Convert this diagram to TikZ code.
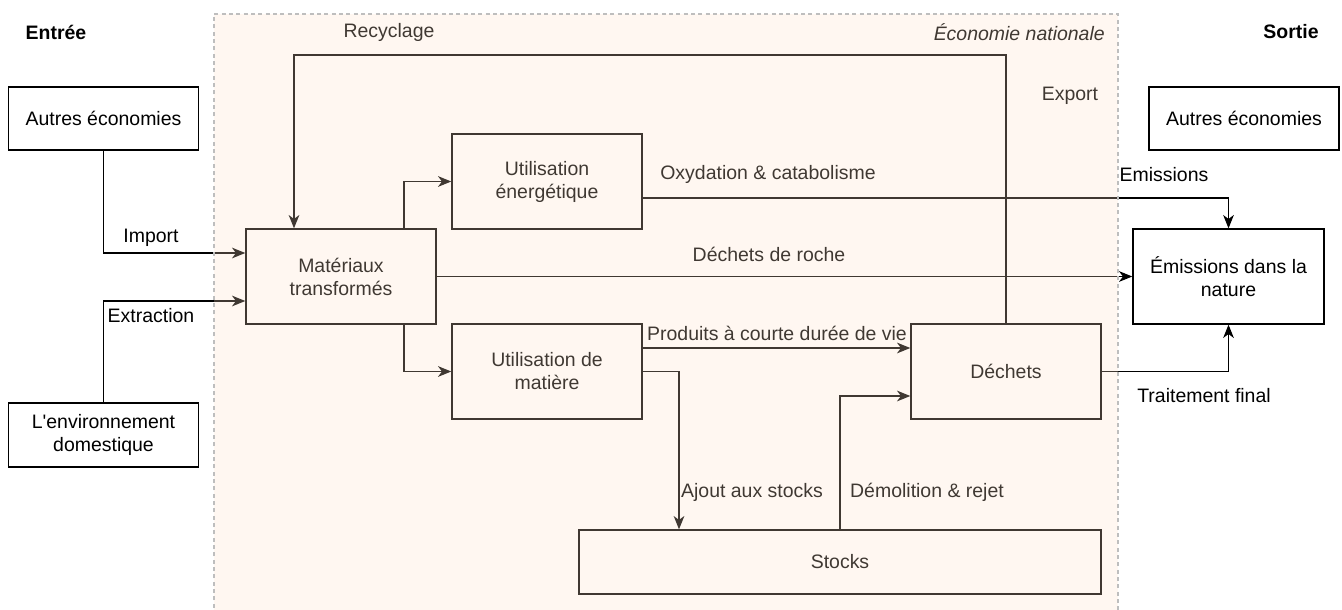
\documentclass[tikz,border=0pt]{standalone}
\usepackage{fontspec}
\setmainfont{Liberation Sans}[Ligatures=TeXOff]
\usetikzlibrary{arrows.meta,calc}
\definecolor{tint}{RGB}{255,227,203}
\definecolor{frame}{RGB}{190,190,190}
\begin{document}
\begin{tikzpicture}[x=0.75pt,y=-0.75pt,
  every node/.style={font=\fontsize{14.6pt}{17.3pt}\selectfont, inner sep=0pt},
  box/.style={draw=black, line width=1pt, align=center, minimum height=#1*0.75pt},
  box/.default=95,
  w190/.style={minimum width=190*0.75pt},
  flow/.style={draw=black, line width=0.8pt, -{Stealth[length=10pt,width=8pt,inset=3pt]}},
  lbl/.style={text=black}]
\useasboundingbox (0,0) rectangle (1342,610);
\fill[white] (0,0) rectangle (1342,610);

% boxes
\node[box=63, w190, fill=white] (aeL) at (103.5,118.5) {Autres économies};
\node[box=64, w190, fill=white] (env) at (103.5,435) {L'environnement\\domestique};
\node[box, w190] (mat) at (341,276.5) {Matériaux\\transformés};
\node[box, w190] (ue) at (547,181.5) {Utilisation\\énergétique};
\node[box, w190] (um) at (547,371.5) {Utilisation de\\matière};
\node[box, w190] (dech) at (1006,371.5) {Déchets};
\node[box=64, minimum width=522*0.75pt] (stocks) at (840,562) {Stocks};
\node[box, minimum width=191*0.75pt, fill=white] (edn) at (1228.5,276.5) {Émissions dans la\\nature};
\node[box=63, w190, fill=white] (aeR) at (1244,118.5) {Autres économies};

% connectors
\draw[flow] (aeL.south) |- (mat.west |- 0,253);
\draw[flow] (env.north) |- (mat.west |- 0,301);
\draw[flow] (mat.north -| 404,0) |- (ue.west);
\draw[flow] (mat.south -| 404,0) |- (um.west);
\draw[flow] (dech.north) -- (dech.north |- 0,55) -| (mat.north -| 294,0);
\draw[flow] (ue.east |- 0,198) -| (edn.north);
\draw[flow] (mat.east) -- (edn.west);
\draw[flow] (um.east |- 0,348) -- (dech.west |- 0,348);
\draw[flow] (um.east) -| (stocks.north -| 679,0);
\draw[flow] (stocks.north) |- (dech.west |- 0,396);
\draw[flow] (dech.east) -| (edn.south);

% labels
\node[font=\fontsize{14.6pt}{17.3pt}\selectfont\bfseries] (tEntree) at (56,32) {Entrée};
\node[font=\fontsize{14.6pt}{17.3pt}\selectfont\bfseries] (tSortie) at (1291,32) {Sortie};
\node (tRec) at (389,32) {Recyclage};
\node[anchor=east, font=\fontsize{14.6pt}{17.3pt}\selectfont\itshape] (tEco) at (1105,32) {Économie nationale};
\node (tExp) at (1070,96) {Export};
\node (tImp) at (151,238) {Import};
\node (tExt) at (151,316) {Extraction};
\node (tOxy) at (768,174) {Oxydation \& catabolisme};
\node (tEmi) at (1164,175) {Emissions};
\node (tRoc) at (769,254) {Déchets de roche};
\node (tPro) at (777,333) {Produits à courte durée de vie};
\node (tAjo) at (752,492) {Ajout aux stocks};
\node (tDem) at (927,492) {Démolition \& rejet};
\node (tTra) at (1204,396) {Traitement final};

% national economy container (tinted overlay + dashed frame)
\fill[tint, opacity=0.25] (214,14) rectangle (1118,615);
\draw[frame, line width=0.8pt, dash pattern=on 3pt off 2.5pt] (214,615) -- (214,14) -- (1118,14) -- (1118,615);
\end{tikzpicture}
\end{document}
